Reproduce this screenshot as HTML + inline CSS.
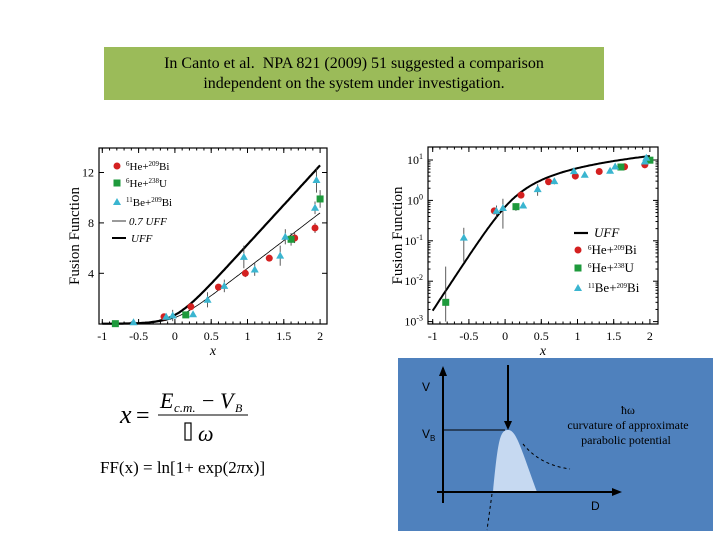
<!DOCTYPE html>
<html><head><meta charset="utf-8"><style>
body{margin:0;background:#fff;width:720px;height:540px;overflow:hidden;position:relative;font-family:"Liberation Serif",serif}
</style></head><body>
<div style="position:absolute;left:104px;top:47px;width:500px;height:53px;background:#9bbb59;font-size:16px;text-align:center;line-height:20px;padding-top:7px;box-sizing:border-box;color:#000">In Canto et al.&nbsp; NPA 821 (2009) 51 suggested a comparison<br>independent on the system under investigation.</div>
<svg id="s" width="720" height="540" style="position:absolute;left:0;top:0" xmlns="http://www.w3.org/2000/svg">
<g id="left"></g>
<g id="right"></g>
<g font-family="Liberation Serif" font-style="italic">
<text x="120" y="423" font-size="26">x</text><text x="136" y="423" font-size="24" font-style="normal">=</text>
<text x="160" y="408" font-size="22">E</text><text x="174" y="412" font-size="13">c.m.</text><text x="202" y="408" font-size="22" font-style="normal">−</text><text x="220" y="408" font-size="22">V</text><text x="235" y="412" font-size="12">B</text>
<line x1="158" y1="415" x2="248" y2="415" stroke="#000" stroke-width="1"/>
<rect x="185" y="423" width="6" height="17" fill="none" stroke="#000" stroke-width="1.2"/><text x="198" y="441" font-size="22">ω</text>
</g>
<text x="100" y="473" font-size="17" font-family="Liberation Serif">FF(x) = ln[1+ exp(2<tspan font-style="italic">π</tspan>x)]</text>
<g>
<rect x="398" y="358" width="315" height="173" fill="#4f81bd"/>
<path d="M493,492 C498,440 500,430 508,430 C516,430 520,445 537,492 Z" fill="#c6d9f1"/>
<line x1="443" y1="368" x2="443" y2="503" stroke="#000" stroke-width="2"/>
<path d="M443,366 l-4,10 h8z" fill="#000"/>
<line x1="437" y1="492" x2="616" y2="492" stroke="#000" stroke-width="2"/>
<path d="M622,492 l-10,-4 v8z" fill="#000"/>
<line x1="443" y1="430" x2="505" y2="430" stroke="#000" stroke-width="1"/>
<line x1="508" y1="365" x2="508" y2="422" stroke="#000" stroke-width="2"/>
<path d="M508,430 l-4,-9 h8z" fill="#000"/>
<path d="M523,444 Q540,465 570,469" fill="none" stroke="#000" stroke-dasharray="3,3"/>
<path d="M492,494 L487,530" fill="none" stroke="#000" stroke-dasharray="3,3"/>
<g font-family="Liberation Sans" font-size="12" fill="#000">
<text x="422" y="391">V</text><text x="422" y="438">V<tspan font-size="8" dy="3">B</tspan></text>
<text x="591" y="510">D</text>
<text x="628" y="414" text-anchor="middle" font-family="Liberation Serif">ħω</text>
<text x="628" y="429" text-anchor="middle" font-family="Liberation Serif">curvature of approximate</text>
<text x="626" y="444" text-anchor="middle" font-family="Liberation Serif">parabolic potential</text>
</g></g>
</svg>
<script>
const xsRed=[-0.15,0.22,0.6,0.97,1.3,1.65,1.93];
const ysRed=[0.55,1.35,2.9,4.0,5.2,6.8,7.6];
const esRed=[0.1,0.15,0.2,0.3,0.2,0.4,0.4];
const xsGreen=[-0.82,0.15,1.6,2.0];
const ysGreen=[0.003,0.7,6.7,9.9];
const esGreen=[0.02,0.15,0.5,0.7];
const xsCyan=[-0.57,-0.12,-0.03,0.25,0.45,0.68,0.95,1.1,1.45,1.52,1.93,1.95];
const ysCyan=[0.12,0.55,0.65,0.75,1.9,3.0,5.3,4.3,5.4,6.9,9.2,11.4];
const esCyan=[0.09,0.2,0.45,0.1,0.6,0.5,0.9,0.5,0.8,0.6,0.5,1.0];
const xTicks=[-1,-0.5,0,0.5,1,1.5,2];
const yTicksLin=[4,8,12];
const yTicksLog=[-3,-2,-1,0,1];
const NS='http://www.w3.org/2000/svg';
function mk(p,t,a){const e=document.createElementNS(NS,t);for(const k in a)e.setAttribute(k,a[k]);p.appendChild(e);return e;}
function uff(x){return Math.log(1+Math.exp(2*Math.PI*x));}
function chart(g,o){
 const X=v=>o.x0+(v+1)*o.ux, Y=o.Y;
 const fr=mk(g,'rect',{x:o.L,y:o.T,width:o.R-o.L,height:o.B-o.T,fill:'none',stroke:'#000','stroke-width':1.2});
 
 xTicks.forEach(t=>{const px=X(t);mk(g,'line',{x1:px,y1:o.B,x2:px,y2:o.B-5,stroke:'#000'});mk(g,'line',{x1:px,y1:o.T,x2:px,y2:o.T+5,stroke:'#000'});
  const tx=mk(g,'text',{x:px,y:o.B+16,'font-size':12,'text-anchor':'middle','font-family':'Liberation Serif'});tx.textContent=t;
  });
 for(let t=-1;t<=2;t+=0.1){const px=X(t);if(px<o.R){mk(g,'line',{x1:px,y1:o.B,x2:px,y2:o.B-2.5,stroke:'#000'});mk(g,'line',{x1:px,y1:o.T,x2:px,y2:o.T+2.5,stroke:'#000'});}}
 o.yt.forEach(t=>{const py=o.log?Y(Math.pow(10,t)):Y(t);mk(g,'line',{x1:o.L,y1:py,x2:o.L+5,y2:py,stroke:'#000'});mk(g,'line',{x1:o.R,y1:py,x2:o.R-5,y2:py,stroke:'#000'});
  const tx=mk(g,'text',{x:o.L-5,y:py+4,'font-size':12,'text-anchor':'end','font-family':'Liberation Serif'});
  
  if(o.log){const a=mk(tx,'tspan',{});a.textContent='10';const s=mk(tx,'tspan',{dy:-5,'font-size':8});s.textContent=t;}else tx.textContent=t;});
 if(o.log){for(let d=-3;d<1;d++)for(let m=2;m<10;m++){const py=Y(m*Math.pow(10,d));mk(g,'line',{x1:o.L,y1:py,x2:o.L+2.5,y2:py,stroke:'#000'});mk(g,'line',{x1:o.R,y1:py,x2:o.R-2.5,y2:py,stroke:'#000'});}}
 const xl=mk(g,'text',{x:(o.L+o.R)/2,y:o.B+31,'font-size':14,'font-style':'italic','text-anchor':'middle','font-family':'Liberation Serif'});xl.textContent='x';
 
 const yl=mk(g,'text',{transform:`translate(${o.L-20-(o.log?6:0)},${(o.T+o.B)/2}) rotate(-90)`,'font-size':15,'text-anchor':'middle','font-family':'Liberation Serif'});yl.textContent='Fusion Function';
 
 o.curves.forEach(c=>{let d='';for(let x=c.from;x<=2.001;x+=0.02){const v=c.k*uff(x);const py=Y(v);d+=(d?'L':'M')+X(x).toFixed(1)+','+Math.min(py,o.B).toFixed(1);}
  const p=mk(g,'path',{d,fill:'none',stroke:'#000','stroke-width':c.w});});
 function series(xs,ys,es,col,shape,name){xs.forEach((x,i)=>{const px=X(x),py=Y(ys[i]);
  const lo=Math.min(Y(Math.max(ys[i]-es[i],1e-3)),o.B),hi=Y(ys[i]+es[i]);
  mk(g,'line',{x1:px,y1:lo,x2:px,y2:hi,stroke:'#333','stroke-width':0.8});
  let m;if(shape==='c')m=mk(g,'circle',{cx:px,cy:py,r:3.5,fill:col});
  else if(shape==='s')m=mk(g,'rect',{x:px-3.5,y:py-3.5,width:7,height:7,fill:col});
  else m=mk(g,'path',{d:`M${px},${py-4}L${px+4},${py+3}L${px-4},${py+3}Z`,fill:col});
  });}
 series(xsRed,ysRed,esRed,'#d42020','c','point-6he-209bi');
 series(xsGreen,ysGreen,esGreen,'#1e9a3c','s','point-6he-238u');
 series(xsCyan,ysCyan,esCyan,'#3ab5d0','t','point-11be-209bi');
 o.legend.forEach(l=>{
  if(l.type==='line')mk(g,'line',{x1:l.x-6,y1:l.y,x2:l.x+8,y2:l.y,stroke:'#000','stroke-width':l.w});
  else if(l.type==='c')mk(g,'circle',{cx:l.x,cy:l.y,r:3.5,fill:'#d42020'});
  else if(l.type==='s')mk(g,'rect',{x:l.x-3.5,y:l.y-3.5,width:7,height:7,fill:'#1e9a3c'});
  else mk(g,'path',{d:`M${l.x},${l.y-4}L${l.x+4},${l.y+3}L${l.x-4},${l.y+3}Z`,fill:'#3ab5d0'});
  const t=mk(g,'text',{x:l.tx,y:l.y+4,'font-size':l.fs,'font-family':'Liberation Serif','font-style':l.it?'italic':'normal'});t.innerHTML=l.text;
  });
}
const sup=(a,b,c,d)=>`<tspan dy="-4" font-size="7">${a}</tspan><tspan dy="4">${b}</tspan><tspan dy="-4" font-size="7">${c}</tspan><tspan dy="4">${d}</tspan>`;
chart(document.getElementById('left'),{L:99,R:327,T:148,B:324,x0:102.3,ux:72.6,Y:v=>323.7-v*12.6,yt:yTicksLin,log:false,
 curves:[{k:1,w:2.2,from:-1,name:'uff-curve'},{k:0.7,w:0.8,from:-1,name:'uff-0.7-curve'}],
 legend:[{type:'c',x:117,y:166,tx:126,fs:11,text:sup('6','He+','209','Bi')},{type:'s',x:117,y:183,tx:126,fs:11,text:sup('6','He+','238','U')},
  {type:'t',x:117,y:202,tx:126,fs:11,text:sup('11','Be+','209','Bi')},{type:'line',x:118,y:221,w:0.8,tx:129,fs:11,it:1,text:'0.7 UFF'},{type:'line',x:118,y:238,w:2,tx:131,fs:11,it:1,text:'UFF'}]});
chart(document.getElementById('right'),{L:428,R:658,T:147,B:324,x0:432.7,ux:72.4,Y:v=>160-(Math.log10(Math.max(v,1e-4))-1)*40.4,yt:yTicksLog,log:true,
 curves:[{k:1,w:2,from:-1,name:'uff-curve'}],
 legend:[{type:'line',x:580,y:233,w:2.2,tx:594,fs:13,it:1,text:'UFF'},{type:'c',x:578,y:250,tx:588,fs:13,text:sup('6','He+','209','Bi')},
  {type:'s',x:578,y:268,tx:588,fs:13,text:sup('6','He+','238','U')},{type:'t',x:578,y:288,tx:588,fs:13,text:sup('11','Be+','209','Bi')}]});
</script>
</body></html>
